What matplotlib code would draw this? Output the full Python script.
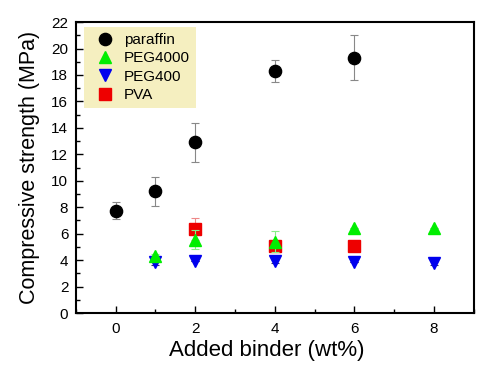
import matplotlib
matplotlib.use("Agg")
import matplotlib.pyplot as plt
from matplotlib.ticker import MultipleLocator

plt.rcParams['font.family'] = ['Liberation Sans', 'DejaVu Sans']

paraffin_x = [0, 1, 2, 4, 6]
paraffin_y = [7.75, 9.2, 12.9, 18.3, 19.3]
paraffin_err = [0.62, 1.1, 1.5, 0.8, 1.7]

peg4000_x = [1, 2, 4, 6, 8]
peg4000_y = [4.3, 5.55, 5.4, 6.4, 6.4]
peg4000_err = [0.15, 0.7, 0.8, 0.0, 0.0]

peg400_x = [1, 2, 4, 6, 8]
peg400_y = [3.85, 3.95, 3.9, 3.85, 3.75]
peg400_err = [0.2, 0.0, 0.15, 0.0, 0.15]

pva_x = [2, 4, 6]
pva_y = [6.35, 5.1, 5.05]
pva_err = [0.8, 0.2, 0.0]

fig = plt.figure(figsize=(4.93, 3.74), dpi=100)
ax = fig.add_axes([0.154, 0.163, 0.807, 0.778])

ms = 8.8
c1 = ax.errorbar(paraffin_x, paraffin_y, yerr=paraffin_err, fmt='o', color='black', ms=ms,
                 ecolor='#888888', elinewidth=0.8, capsize=3, capthick=0.8, label='paraffin', zorder=3)
c2 = ax.errorbar(peg4000_x, peg4000_y, yerr=peg4000_err, fmt='^', color='#00ee00', ms=ms + 0.3,
                 ecolor='#88ee88', elinewidth=0.8, capsize=3, capthick=0.8, label='PEG4000', zorder=4)
c3 = ax.errorbar(peg400_x, peg400_y, yerr=peg400_err, fmt='v', color='#0000ee', ms=ms + 0.3,
                 ecolor='#333366', elinewidth=0.8, capsize=3, capthick=0.8, label='PEG400', zorder=2)
c4 = ax.errorbar(pva_x, pva_y, yerr=pva_err, fmt='s', color='#ee0000', ms=ms - 0.8,
                 ecolor='#ee8888', elinewidth=0.8, capsize=3, capthick=0.8, label='PVA', zorder=3)

ax.set_xlim(-1, 9)
ax.set_ylim(0, 22)
ax.xaxis.set_major_locator(MultipleLocator(2))
ax.xaxis.set_minor_locator(MultipleLocator(1))
ax.yaxis.set_major_locator(MultipleLocator(2))
ax.yaxis.set_minor_locator(MultipleLocator(1))
ax.tick_params(which='both', direction='in', top=False, right=False, labelsize=11, width=1)
ax.tick_params(axis='x', which='major', pad=6.5)
ax.tick_params(axis='y', which='major', pad=5.5)
ax.tick_params(which='major', length=5)
ax.tick_params(which='minor', length=3)
for s in ax.spines.values():
    s.set_linewidth(1.5)

ax.set_xlabel('Added binder (wt%)', fontsize=16, labelpad=3)
ax.xaxis.label.set_x(0.479)
ax.set_ylabel('Compressive strength (MPa)', fontsize=15.5, labelpad=8)

handles = [c1[0], c2[0], c3[0], c4[0]]
labels = ['paraffin', 'PEG4000', 'PEG400', 'PVA']
leg = ax.legend(handles, labels, loc='upper left', bbox_to_anchor=(0.02, 0.983), frameon=True,
                fancybox=False, fontsize=11, handletextpad=0.2, borderpad=0.4,
                labelspacing=0.28, handlelength=2.0, borderaxespad=0)
leg.get_frame().set_facecolor('#f5efc0')
leg.get_frame().set_edgecolor('none')
leg.get_frame().set_alpha(1)

fig.savefig('out.png', dpi=100)
